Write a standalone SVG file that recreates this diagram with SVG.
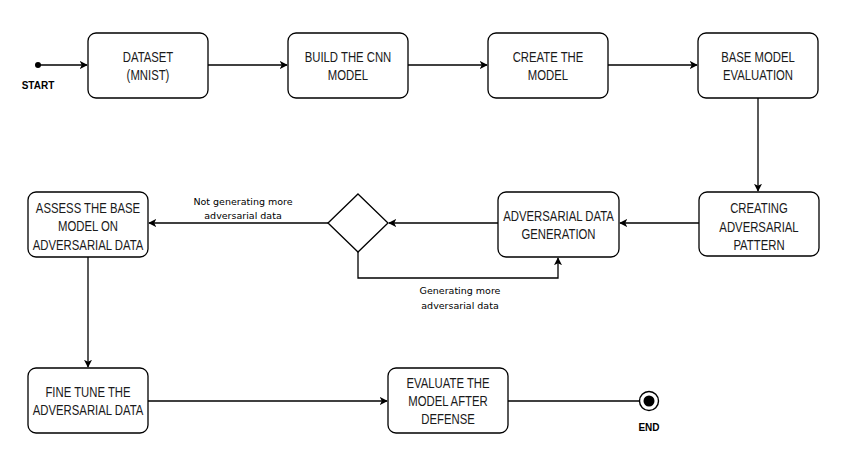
<svg xmlns="http://www.w3.org/2000/svg" width="851" height="460" viewBox="0 0 851 460">
<style>
.box{fill:#fff;stroke:#000;stroke-width:1.3}
.t{font-family:"Liberation Sans",Arial,sans-serif;font-size:14px;fill:#1a1a1a;text-anchor:middle;transform-box:fill-box;transform-origin:center;transform:scaleX(0.81)}
.l{font-family:"DejaVu Sans",sans-serif;font-size:9.5px;fill:#000;text-anchor:middle}
.s{font-family:"Liberation Sans",Arial,sans-serif;font-size:10px;font-weight:bold;fill:#000;text-anchor:middle}
.c{fill:none;stroke:#000;stroke-width:1.3}
</style>
<defs>
<marker id="arr" viewBox="0 0 10 10" refX="9" refY="5" markerWidth="8" markerHeight="8" markerUnits="userSpaceOnUse" orient="auto">
<path d="M0,0 L10,5 L0,10 L2.5,5 Z" fill="#000"/>
</marker>
</defs>
<rect width="851" height="460" fill="#fff"/>
<g id="connectors">
<path class="c" d="M38,65 H87" marker-end="url(#arr)"/>
<path class="c" d="M208,65 H287" marker-end="url(#arr)"/>
<path class="c" d="M408,65 H487" marker-end="url(#arr)"/>
<path class="c" d="M608,65 H697" marker-end="url(#arr)"/>
<path class="c" d="M758,98 V191" marker-end="url(#arr)"/>
<path class="c" d="M699,223 H620" marker-end="url(#arr)"/>
<path class="c" d="M498,223 H389" marker-end="url(#arr)"/>
<path class="c" d="M328,223 H149" marker-end="url(#arr)"/>
<path class="c" d="M358,252 V278 H558 V258" marker-end="url(#arr)"/>
<path class="c" d="M88,257 V367" marker-end="url(#arr)"/>
<path class="c" d="M148,401 H387" marker-end="url(#arr)"/>
<path class="c" d="M508,401 H639"/>
<text class="l" x="243" y="205">Not generating more</text>
<text class="l" x="243" y="219">adversarial data</text>
<text class="l" x="460" y="294">Generating more</text>
<text class="l" x="460" y="309">adversarial data</text>
</g>
<g id="start">
<circle cx="38" cy="65" r="3" fill="#000"/>
<text class="s" x="38" y="89">START</text>
</g>
<g id="dataset">
<rect class="box" x="88" y="33" width="120" height="65" rx="8"/>
<text class="t" x="148" y="62">DATASET</text>
<text class="t" x="148" y="80">(MNIST)</text>
</g>
<g id="build">
<rect class="box" x="288" y="33" width="120" height="65" rx="8"/>
<text class="t" x="348" y="62">BUILD THE CNN</text>
<text class="t" x="348" y="80">MODEL</text>
</g>
<g id="create">
<rect class="box" x="488" y="33" width="120" height="65" rx="8"/>
<text class="t" x="548" y="62">CREATE THE</text>
<text class="t" x="548" y="80">MODEL</text>
</g>
<g id="base">
<rect class="box" x="698" y="33" width="120" height="65" rx="8"/>
<text class="t" x="758" y="62">BASE MODEL</text>
<text class="t" x="758" y="80">EVALUATION</text>
</g>
<g id="creating">
<rect class="box" x="699" y="192" width="120" height="64" rx="8"/>
<text class="t" x="759" y="213">CREATING</text>
<text class="t" x="759" y="232">ADVERSARIAL</text>
<text class="t" x="759" y="250.5">PATTERN</text>
</g>
<g id="advgen">
<rect class="box" x="498" y="192" width="121" height="65" rx="8"/>
<text class="t" x="558.5" y="221.5">ADVERSARIAL DATA</text>
<text class="t" x="558.5" y="239.5">GENERATION</text>
</g>
<g id="decision">
<path class="box" d="M358,194 L388,223 L358,252 L328,223 Z"/>
</g>
<g id="assess">
<rect class="box" x="28" y="192" width="120" height="65" rx="8"/>
<text class="t" x="88" y="213">ASSESS THE BASE</text>
<text class="t" x="88" y="231.5">MODEL ON</text>
<text class="t" x="88" y="250">ADVERSARIAL DATA</text>
</g>
<g id="finetune">
<rect class="box" x="28" y="368" width="120" height="65" rx="8"/>
<text class="t" x="88" y="397.5">FINE TUNE THE</text>
<text class="t" x="88" y="415.5">ADVERSARIAL DATA</text>
</g>
<g id="evaluate">
<rect class="box" x="388" y="368" width="120" height="65" rx="8"/>
<text class="t" x="448" y="388">EVALUATE THE</text>
<text class="t" x="448" y="406.5">MODEL AFTER</text>
<text class="t" x="448" y="424.5">DEFENSE</text>
</g>
<g id="end">
<circle cx="649" cy="401" r="9.5" fill="#fff" stroke="#000" stroke-width="1.4"/>
<circle cx="649" cy="401" r="5.5" fill="#000"/>
<text class="s" x="649" y="431">END</text>
</g>
</svg>
